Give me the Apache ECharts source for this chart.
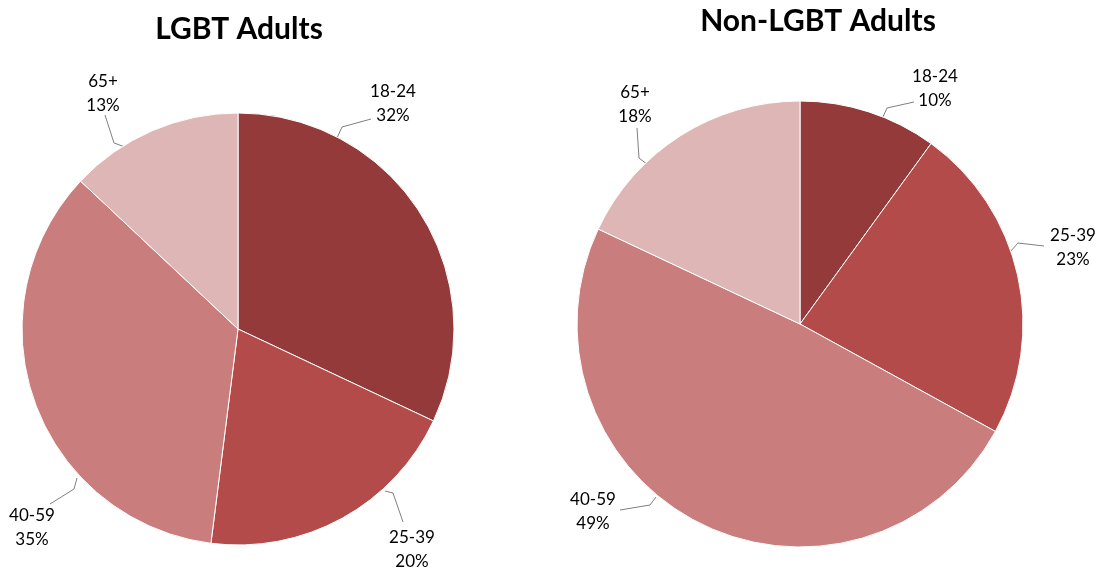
<!DOCTYPE html>
<html>
<head>
<meta charset="utf-8">
<script src="https://cdn.jsdelivr.net/npm/echarts@6/dist/echarts.min.js"></script>
<style>html,body{margin:0;padding:0;background:#fff}#c{width:1101px;height:571px}</style>
</head>
<body>
<div id="c"></div>
<script>
const categories = ['18-24', '25-39', '40-59', '65+'];
const lgbtValues = [32, 20, 35, 13];
const nonLgbtValues = [10, 23, 49, 18];
const titles = ['LGBT Adults', 'Non-LGBT Adults'];

const colors = ['#953A3A', '#B34B4A', '#C97D7C', '#DEB6B5'];
const FONT = 'Lato, "Liberation Sans", sans-serif';

// label placement (text centre + leader line points) per pie, per slice
const labelPlacement = [
  [
    { c: [393, 104], line: [[337, 138], [342, 127], [371, 119]] },
    { c: [412, 550], line: [[385, 491], [393, 493], [403, 522]] },
    { c: [32, 528],  line: [[77, 478], [74, 489], [50, 504]] },
    { c: [103, 94],  line: [[125, 147], [114, 143], [105, 115]] }
  ],
  [
    { c: [935, 89],  line: [[882, 119], [887, 108], [914, 102]] },
    { c: [1073, 248], line: [[1010, 252], [1018, 243], [1044, 246]] },
    { c: [593, 512], line: [[656, 497], [650, 505], [620, 510]] },
    { c: [635, 105], line: [[648, 165], [639, 158], [637, 128]] }
  ]
];

function makeData(vals) {
  return categories.map((n, i) => ({ name: n, value: vals[i], itemStyle: { color: colors[i] } }));
}

function makeSeries(idx, vals, center, radius) {
  return {
    type: 'pie',
    center: center,
    radius: radius,
    startAngle: 90,
    clockwise: true,
    animation: false,
    avoidLabelOverlap: false,
    itemStyle: { borderColor: '#ffffff', borderWidth: 1 },
    label: {
      show: true,
      formatter: '{b}\n{c}%',
      color: '#000000',
      fontFamily: FONT,
      fontSize: 17,
      lineHeight: 24,
      align: 'center'
    },
    labelLine: { show: true, lineStyle: { color: '#808080', width: 1 } },
    labelLayout: function (p) {
      const pl = labelPlacement[idx][p.dataIndex];
      return {
        x: pl.c[0], y: pl.c[1],
        align: 'center', verticalAlign: 'middle',
        labelLinePoints: pl.line
      };
    },
    emphasis: { disabled: true },
    data: makeData(vals)
  };
}

const chart = echarts.init(document.getElementById('c'), null, { renderer: 'canvas' });
chart.setOption({
  backgroundColor: '#ffffff',
  title: [
    { text: titles[0], left: 234, top: 9, textAlign: 'center',
      textStyle: { fontFamily: FONT, fontWeight: 'bold', fontSize: 30, color: '#000' } },
    { text: titles[1], left: 813, top: 1, textAlign: 'center',
      textStyle: { fontFamily: FONT, fontWeight: 'bold', fontSize: 30, color: '#000' } }
  ],
  series: [
    makeSeries(0, lgbtValues, [238, 329], 216),
    makeSeries(1, nonLgbtValues, [800, 324], 223)
  ]
});
</script>
</body>
</html>
